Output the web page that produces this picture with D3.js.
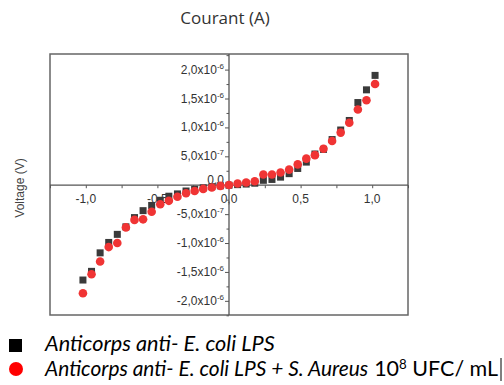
<!DOCTYPE html>
<html><head><meta charset="utf-8">
<script src="https://cdn.jsdelivr.net/npm/d3@7"></script>
<style>body{margin:0;background:#fff}svg{display:block}</style>
</head><body>
<script>
// Voltage values (x) and currents (y, ×1e-6 A)
const voltage = [-1.02,-0.96,-0.90,-0.84,-0.78,-0.72,-0.66,-0.60,-0.54,-0.48,-0.42,-0.36,-0.30,-0.24,-0.18,-0.12,-0.06,0,0.06,0.12,0.18,0.24,0.30,0.36,0.42,0.48,0.54,0.60,0.66,0.72,0.78,0.84,0.90,0.96,1.02];
const seriesLPS = [-1.64,-1.49,-1.17,-0.99,-0.85,-0.72,-0.56,-0.44,-0.35,-0.26,-0.19,-0.15,-0.10,-0.07,-0.045,-0.025,-0.01,0,0.01,0.02,0.035,0.085,0.10,0.14,0.20,0.29,0.40,0.54,0.62,0.79,0.955,1.12,1.43,1.65,1.90];
const seriesAureus = [-1.87,-1.54,-1.32,-1.07,-1.00,-0.73,-0.60,-0.59,-0.46,-0.33,-0.27,-0.20,-0.14,-0.10,-0.064,-0.04,-0.012,0.005,0.03,0.047,0.07,0.185,0.185,0.22,0.27,0.36,0.46,0.52,0.63,0.765,0.91,1.08,1.31,1.47,1.75];
const xTicks = [-1.0,-0.5,0.0,0.5,1.0];
const xTickLabels = ["-1,0","-0,5","0,0","0,5","1,0"];
const yTicks = [-2.0,-1.5,-1.0,-0.5,0,0.5,1.0,1.5,2.0];
const yTickMant = ["-2,0","-1,5","-1,0","-5,0","0,0","5,0","1,0","1,5","2,0"];
const yTickExp = ["-6","-6","-6","-7",null,"-7","-6","-6","-6"];
const legendLabels = ["Anticorps anti- E. coli LPS","Anticorps anti- E. coli LPS + S. Aureus"];

const W=504,H=385;
const svg=d3.select("body").append("svg").attr("width",W).attr("height",H);
const L=50,R=408,T=54,B=315;
const x=d3.scaleLinear().domain([-1.25,1.25]).range([L,R]);
const y=d3.scaleLinear().domain([-2.245,2.27]).range([B,T]);
const axisCol="#555";

svg.append("text").attr("x",225).attr("y",24).attr("text-anchor","middle")
  .attr("font-family","Open Sans").attr("font-size",17).attr("fill","#333").text("Courant (A)");
svg.append("text").attr("transform","translate(24,188) rotate(-90)").attr("text-anchor","middle")
  .attr("font-family","Liberation Sans").attr("font-size",12).attr("fill","#444").text("Voltage (V)");

svg.append("rect").attr("x",L).attr("y",T).attr("width",R-L).attr("height",B-T)
  .attr("fill","none").attr("stroke","#666").attr("stroke-width",1.5);

// x axis at y=0
const gx=svg.append("g").attr("transform",`translate(0,${y(0)})`);
gx.call(d3.axisBottom(x).tickValues(d3.range(-1.25,1.2501,0.25)).tickSize(3).tickFormat(""));
gx.select(".domain").remove();
gx.append("line").attr("x1",L).attr("x2",R).attr("stroke",axisCol).attr("stroke-width",1.3);
gx.selectAll(".tick line").attr("stroke",axisCol).attr("stroke-width",1);
gx.selectAll(".xl").data(xTicks).join("text").attr("class","xl")
  .attr("x",d=>x(d)).attr("y",18).attr("text-anchor","middle")
  .attr("font-family","Liberation Sans").attr("font-size",12).attr("fill","#333")
  .text((d,i)=>xTickLabels[i]);

// y axis at x=0
const gy=svg.append("g").attr("transform",`translate(${x(0)},0)`);
gy.call(d3.axisLeft(y).tickValues(d3.range(-2.25,2.26,0.25)).tickSize(3).tickFormat(""));
gy.select(".domain").remove();
gy.append("line").attr("y1",T).attr("y2",B).attr("stroke",axisCol).attr("stroke-width",1.3);
gy.selectAll(".tick line").attr("stroke",axisCol).attr("stroke-width",1)
  .attr("x2",(d)=>Math.abs(Math.round(d*4)%2)===0?-4:-2.5);
const yl=gy.selectAll(".yl").data(yTicks).join("text").attr("class","yl")
  .attr("x",-5).attr("y",d=>y(d)+ (d===0?-1:4)).attr("text-anchor","end")
  .attr("font-family","Liberation Sans").attr("font-size",12).attr("fill","#333");
yl.each(function(d,i){
  const t=d3.select(this);
  if(yTickExp[i]===null){t.text(yTickMant[i]);return;}
  t.append("tspan").text(yTickMant[i]+"x10");
  t.append("tspan").attr("dy",-5).attr("font-size",8).text(yTickExp[i]);
});

// points
svg.append("g").selectAll("rect").data(voltage).join("rect")
  .attr("x",(d)=>x(d)-3.5).attr("y",(d,i)=>y(seriesLPS[i])-3.5)
  .attr("width",7).attr("height",7).attr("fill","#3a3a3a");
svg.append("g").selectAll("circle").data(voltage).join("circle")
  .attr("cx",d=>x(d)).attr("cy",(d,i)=>y(seriesAureus[i])).attr("r",4.3)
  .attr("fill","#f03434");

// legend
svg.append("rect").attr("x",9).attr("y",339).attr("width",13).attr("height",13).attr("fill","#000");
svg.append("circle").attr("cx",16).attr("cy",369).attr("r",7).attr("fill","#ff0000");
const lf="Lato";
const t1=svg.append("text").attr("x",45).attr("y",351).attr("font-family",lf).attr("font-size",17)
  .attr("font-style","italic").attr("fill","#000").text(legendLabels[0]);
const fs=17*230/t1.node().getComputedTextLength();
t1.attr("font-size",fs);
const t2a=svg.append("text").attr("x",45).attr("y",376).attr("font-family",lf).attr("font-size",fs)
  .attr("font-style","italic").attr("fill","#000").text(legendLabels[1]);
const w2=t2a.node().getComputedTextLength();
const fs2=fs*Math.min(1,323/w2);
t2a.attr("font-size",fs2);
const start=45+t2a.node().getComputedTextLength()+6;
const t2b=svg.append("text").attr("x",start).attr("y",376).attr("font-family",lf).attr("font-size",fs).attr("fill","#000");
t2b.append("tspan").text("10");
t2b.append("tspan").attr("dy",-7).attr("font-size",fs*0.62).text("8");
t2b.append("tspan").attr("dy",7).text(" UFC/ mL");
const wb=t2b.node().getComputedTextLength();
const fsb=fs*(498-start)/wb;
t2b.attr("font-size",fsb);
t2b.selectAll("tspan").filter((d,i)=>i===1).attr("font-size",fsb*0.62);
svg.append("line").attr("x1",501).attr("x2",501).attr("y1",358).attr("y2",381).attr("stroke","#000").attr("stroke-width",1);
</script>
</body></html>
